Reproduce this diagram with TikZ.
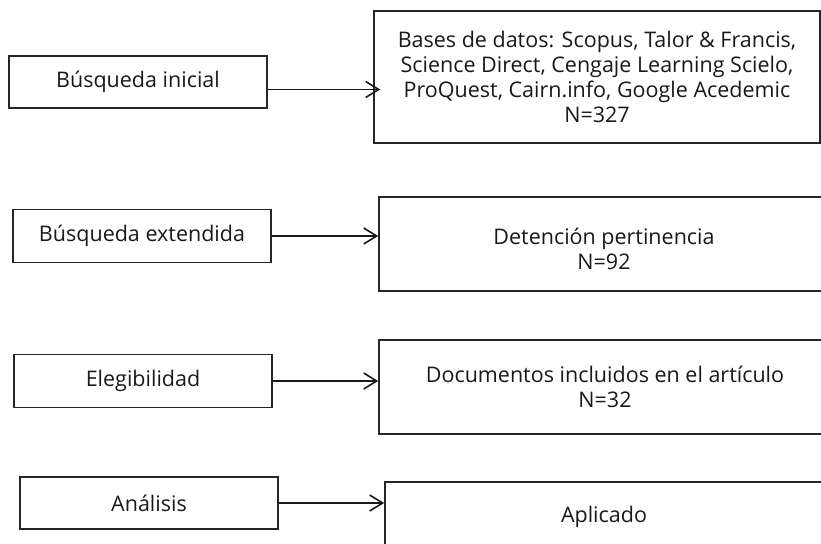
\documentclass[tikz,border=0pt]{standalone}
\usepackage{fontspec}
\setmainfont{Open Sans}
\usetikzlibrary{arrows.meta}
\tikzset{
  box/.style={draw=black!85, line width=1.6pt, rectangle, inner sep=0pt, fill=none},
  txt/.style={align=center, inner sep=0pt, font=\fontsize{21.5}{25}\selectfont, text=black!90},
  arr/.style={draw=black!90, line width=1.6pt, -{Straight Barb[length=13pt,width=16pt,line width=1.6pt]}},
}
\begin{document}
\begin{tikzpicture}[x=1pt,y=-1pt]
\useasboundingbox (0,0) rectangle (821,543);
\clip (0,0) rectangle (821,543);
% left boxes
\node[box, txt, minimum width=258pt, minimum height=52pt] (l1) at (138,82) {Búsqueda inicial};
\node[box, txt, minimum width=258pt, minimum height=53pt] (l2) at (142,236) {Búsqueda extendida};
\node[box, txt, minimum width=258pt, minimum height=53pt] (l3) at (143,381) {Elegibilidad};
\node[box, txt, minimum width=258pt, minimum height=52pt] (l4) at (149,503) {Análisis};
% right boxes
\node[box, txt, minimum width=446pt, minimum height=132pt] (r1) at (597,77)
  {Bases de datos: Scopus, Talor \& Francis,\\Science Direct, Cengaje Learning Scielo,\\ProQuest, Cairn.info, Google Acedemic\\N=327};
\node[box, minimum width=450pt, minimum height=94pt] (r2) at (604,244) {};
\node[txt] (t2) at (604,248.5) {Detención pertinencia\\N=92};
\node[box, txt, minimum width=452pt, minimum height=94pt] (r3) at (605,387) {Documentos incluidos en el artículo\\N=32};
\node[box, txt, minimum width=438pt, minimum height=70pt] (r4) at (604,517) {Aplicado};
% arrows
\coordinate (a1) at ([yshift=-7.5pt]l1.east);
\draw[arr, shorten >=-7pt] (a1) -- (a1 -| r1.west);
\draw[arr] (l2.east) -- (l2.east -| r2.west);
\draw[arr] (l3.east) -- (l3.east -| r3.west);
\draw[arr] (l4.east) -- (l4.east -| r4.west);
\end{tikzpicture}
\end{document}
